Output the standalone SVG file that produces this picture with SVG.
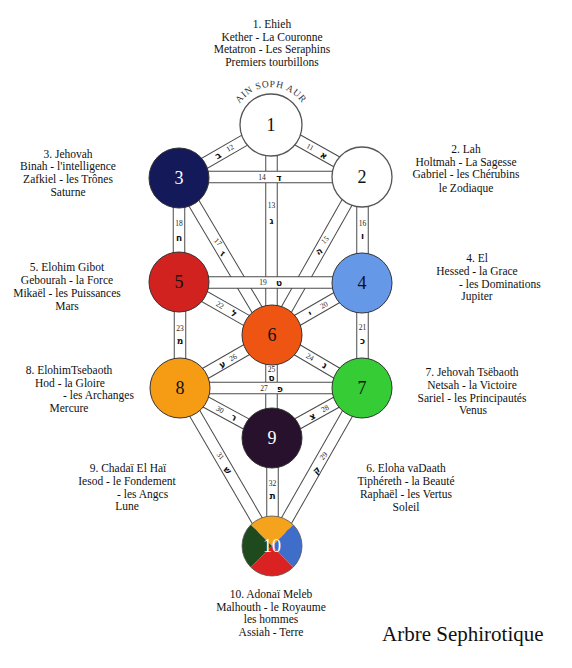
<svg xmlns="http://www.w3.org/2000/svg" width="572" height="668" viewBox="0 0 572 668">
<style>
.bo{stroke:#4a4a4a;stroke-width:12.5;fill:none}
.bi{stroke:#fff;stroke-width:10.5;fill:none}
.lb{font-family:"Liberation Serif","Times New Roman",serif;font-size:11.5px;fill:#111;text-anchor:middle}
.ls{font-family:"Liberation Serif","Times New Roman",serif;font-size:11.5px;fill:#111;text-anchor:start}
.pn{font-family:"Liberation Serif","Times New Roman",serif;font-size:7.5px;fill:#222;text-anchor:middle}
.pl{font-family:"DejaVu Sans","Liberation Sans",sans-serif;font-size:9px;font-weight:bold;fill:#111;text-anchor:middle}
.nn{font-family:"Liberation Serif","Times New Roman",serif;font-size:18px;text-anchor:middle}
.ring{stroke:#333;stroke-width:1}
</style>
<defs>
<path id="arc" d="M 233 125 A 38 38 0 0 1 309 125"/>
</defs>

<g id="text-labels">
<g id="label-1"><text class="lb" x="272" y="28">1. Ehieh</text><text class="lb" x="272" y="41">Kether - La Couronne</text><text class="lb" x="272" y="53">Metatron - Les Seraphins</text><text class="lb" x="272" y="66">Premiers tourbillons</text></g>
<g id="label-3"><text class="lb" x="68" y="158">3. Jehovah</text><text class="lb" x="68" y="170">Binah - l'intelligence</text><text class="lb" x="68" y="183">Zafkiel - les Trônes</text><text class="lb" x="68" y="196">Saturne</text></g>
<g id="label-2"><text class="lb" x="466" y="153">2. Lah</text><text class="lb" x="466" y="166">Holtmah - La Sagesse</text><text class="lb" x="466" y="178">Gabriel - les Chérubins</text><text class="lb" x="466" y="192">le Zodiaque</text></g>
<g id="label-5"><text class="lb" x="67" y="271">5. Elohim Gibot</text><text class="lb" x="67" y="284">Gebourah - la Force</text><text class="lb" x="67" y="297">Mikaël - les Puissances</text><text class="lb" x="67" y="310">Mars</text></g>
<g id="label-4"><text class="lb" x="477" y="262">4. El</text><text class="lb" x="477" y="275">Hessed - la Grace</text><text class="ls" x="459" y="288">- les Dominations</text><text class="lb" x="477" y="300">Jupiter</text></g>
<g id="label-8"><text class="lb" x="69" y="374">8. ElohimTsebaoth</text><text class="lb" x="70" y="387">Hod - la Gloire</text><text class="ls" x="63" y="399">- les Archanges</text><text class="lb" x="69" y="412">Mercure</text></g>
<g id="label-7"><text class="lb" x="472" y="376">7. Jehovah Tsëbaoth</text><text class="lb" x="472" y="389">Netsah - la Victoire</text><text class="lb" x="472" y="402">Sariel - les Principautés</text><text class="lb" x="473" y="414">Venus</text></g>
<g id="label-9"><text class="lb" x="128" y="472">9. Chadaï El Haï</text><text class="lb" x="127" y="485">Iesod - le Fondement</text><text class="ls" x="117" y="498">- les Angcs</text><text class="lb" x="127" y="510">Lune</text></g>
<g id="label-6"><text class="lb" x="406" y="472">6. Eloha vaDaath</text><text class="lb" x="406" y="485">Tiphéreth - la Beauté</text><text class="lb" x="406" y="498">Raphaël - les Vertus</text><text class="lb" x="406" y="511">Soleil</text></g>
<g id="label-10"><text class="lb" x="271" y="598">10. Adonaï Meleb</text><text class="lb" x="271" y="611">Malhouth - le Royaume</text><text class="lb" x="271" y="623">les hommes</text><text class="lb" x="271" y="636">Assiah - Terre</text></g>
<text id="title" x="382" y="641" font-family="Liberation Serif, Times New Roman, serif" font-size="21" fill="#111">Arbre Sephirotique</text>
<text id="ain-soph-aur" font-family="Liberation Serif, Times New Roman, serif" font-size="9.5" fill="#333" letter-spacing="0.7" text-anchor="middle"><textPath href="#arc" startOffset="50%">AIN SOPH AUR</textPath></text>
</g>

<g id="connectors">
<g id="p11"><line class="bo" x1="271" y1="125" x2="362" y2="176"/><line class="bi" x1="271" y1="125" x2="362" y2="176"/></g>
<g id="p12"><line class="bo" x1="271" y1="125" x2="179" y2="178"/><line class="bi" x1="271" y1="125" x2="179" y2="178"/></g>
<g id="p13"><line class="bo" x1="271.5" y1="125" x2="271.5" y2="335"/><line class="bi" x1="271.5" y1="125" x2="271.5" y2="335"/></g>
<g id="p15"><line class="bo" x1="362" y1="176" x2="272" y2="335"/><line class="bi" x1="362" y1="176" x2="272" y2="335"/></g>
<g id="p16"><line class="bo" x1="362.5" y1="176" x2="362.5" y2="283"/><line class="bi" x1="362.5" y1="176" x2="362.5" y2="283"/></g>
<g id="p17"><line class="bo" x1="179" y1="178" x2="272" y2="335"/><line class="bi" x1="179" y1="178" x2="272" y2="335"/></g>
<g id="p18"><line class="bo" x1="179" y1="178" x2="179" y2="282"/><line class="bi" x1="179" y1="178" x2="179" y2="282"/></g>
<g id="p20"><line class="bo" x1="362" y1="283" x2="272" y2="335"/><line class="bi" x1="362" y1="283" x2="272" y2="335"/></g>
<g id="p21"><line class="bo" x1="362.5" y1="283" x2="362.5" y2="388"/><line class="bi" x1="362.5" y1="283" x2="362.5" y2="388"/></g>
<g id="p22"><line class="bo" x1="179" y1="282" x2="272" y2="335"/><line class="bi" x1="179" y1="282" x2="272" y2="335"/></g>
<g id="p23"><line class="bo" x1="180" y1="282" x2="180" y2="388"/><line class="bi" x1="180" y1="282" x2="180" y2="388"/></g>
<g id="p24"><line class="bo" x1="272" y1="335" x2="362" y2="388"/><line class="bi" x1="272" y1="335" x2="362" y2="388"/></g>
<g id="p25"><line class="bo" x1="271.5" y1="335" x2="271.5" y2="438"/><line class="bi" x1="271.5" y1="335" x2="271.5" y2="438"/></g>
<g id="p26"><line class="bo" x1="180" y1="388" x2="272" y2="335"/><line class="bi" x1="180" y1="388" x2="272" y2="335"/></g>
<g id="p28"><line class="bo" x1="362" y1="388" x2="272" y2="438"/><line class="bi" x1="362" y1="388" x2="272" y2="438"/></g>
<g id="p29"><line class="bo" x1="362" y1="388" x2="272" y2="546"/><line class="bi" x1="362" y1="388" x2="272" y2="546"/></g>
<g id="p30"><line class="bo" x1="180" y1="388" x2="272" y2="438"/><line class="bi" x1="180" y1="388" x2="272" y2="438"/></g>
<g id="p31"><line class="bo" x1="180" y1="388" x2="272" y2="546"/><line class="bi" x1="180" y1="388" x2="272" y2="546"/></g>
<g id="p32"><line class="bo" x1="272.5" y1="438" x2="272.5" y2="546"/><line class="bi" x1="272.5" y1="438" x2="272.5" y2="546"/></g>
<g id="p14"><line class="bo" x1="179" y1="177" x2="362" y2="177"/><line class="bi" x1="179" y1="177" x2="362" y2="177"/></g>
<g id="p19"><line class="bo" x1="179" y1="282.5" x2="362" y2="282.5"/><line class="bi" x1="179" y1="282.5" x2="362" y2="282.5"/></g>
<g id="p27"><line class="bo" x1="180" y1="388" x2="362" y2="388"/><line class="bi" x1="180" y1="388" x2="362" y2="388"/></g>

<g id="path-labels">
<text class="pn" transform="translate(310,147) rotate(29)" y="2.5">11</text><text class="pl" transform="translate(324,155) rotate(29)" y="3.5">א</text>
<text class="pn" transform="translate(230,148) rotate(-30)" y="2.5">12</text><text class="pl" transform="translate(218,155) rotate(-30)" y="3.5">ב</text>
<text class="pn" x="271.5" y="207.5">13</text><text class="pl" x="271.5" y="223.5">ג</text>
<text class="pn" x="262" y="179.5">14</text><text class="pl" x="279" y="180.5">ד</text>
<text class="pn" transform="translate(325,240) rotate(-45)" y="2.5">15</text><text class="pl" transform="translate(319,251) rotate(-30)" y="3.5">ה</text>
<text class="pn" x="362.5" y="225.5">16</text><text class="pl" x="362.5" y="238.5">ו</text>
<text class="pn" transform="translate(218,242) rotate(45)" y="2.5">17</text><text class="pl" transform="translate(223,253) rotate(30)" y="3.5">ז</text>
<text class="pn" x="179" y="225.5">18</text><text class="pl" x="179" y="240.5">ח</text>
<text class="pn" x="263" y="285">19</text><text class="pl" x="279" y="286">ט</text>
<text class="pn" transform="translate(324,305) rotate(-30)" y="2.5">20</text><text class="pl" transform="translate(310,313) rotate(-30)" y="3.5">י</text>
<text class="pn" x="362.5" y="329.5">21</text><text class="pl" x="362.5" y="343.5">כ</text>
<text class="pn" transform="translate(220,305) rotate(30)" y="2.5">22</text><text class="pl" transform="translate(234,313) rotate(30)" y="3.5">ל</text>
<text class="pn" x="180" y="330.5">23</text><text class="pl" x="180" y="343.5">מ</text>
<text class="pn" transform="translate(310,357) rotate(30)" y="2.5">24</text><text class="pl" transform="translate(325,365) rotate(30)" y="3.5">נ</text>
<text class="pn" x="271.5" y="371.5">25</text><text class="pl" x="271.5" y="381">ס</text>
<text class="pn" transform="translate(233,357.5) rotate(-30)" y="2.5">26</text><text class="pl" transform="translate(222,364) rotate(-30)" y="3.5">ע</text>
<text class="pn" x="264" y="390.5">27</text><text class="pl" x="280" y="391.5">פ</text>
<text class="pn" transform="translate(325,408.5) rotate(-29)" y="2.5">28</text><text class="pl" transform="translate(312,416) rotate(-29)" y="3.5">צ</text>
<text class="pn" transform="translate(323.5,456) rotate(-50)" y="2.5">29</text><text class="pl" transform="translate(316,470) rotate(-45)" y="3.5">ק</text>
<text class="pn" transform="translate(220,409.5) rotate(29)" y="2.5">30</text><text class="pl" transform="translate(234,417) rotate(29)" y="3.5">ר</text>
<text class="pn" transform="translate(220.5,456) rotate(50)" y="2.5">31</text><text class="pl" transform="translate(228,470) rotate(45)" y="3.5">ש</text>
<text class="pn" x="272.5" y="485.5">32</text><text class="pl" x="272.5" y="498.5">ת</text>
</g>
</g>

<g id="node-1"><circle cx="271" cy="125" r="31" fill="#fff" stroke="#555" stroke-width="1.3"/><text class="nn" x="271" y="131" fill="#111">1</text></g>
<g id="node-2"><circle cx="362" cy="177" r="30" fill="#fff" stroke="#555" stroke-width="1.3"/><text class="nn" x="362" y="183" fill="#111">2</text></g>
<g id="node-3"><circle class="ring" cx="179" cy="178" r="30" fill="#14195a"/><text class="nn" x="179" y="184" fill="#fff">3</text></g>
<g id="node-5"><circle class="ring" cx="179" cy="282" r="30" fill="#d2221f"/><text class="nn" x="179" y="288" fill="#111">5</text></g>
<g id="node-4"><circle class="ring" cx="362" cy="283" r="30" fill="#6698e8"/><text class="nn" x="362" y="289" fill="#111">4</text></g>
<g id="node-6"><circle class="ring" cx="272" cy="335" r="30" fill="#ef5512"/><text class="nn" x="272" y="341" fill="#111">6</text></g>
<g id="node-8"><circle class="ring" cx="180" cy="388" r="30" fill="#f59c14"/><text class="nn" x="180" y="394" fill="#111">8</text></g>
<g id="node-7"><circle class="ring" cx="362" cy="388" r="30" fill="#36cc36"/><text class="nn" x="362" y="394" fill="#111">7</text></g>
<g id="node-9"><circle class="ring" cx="272" cy="438" r="30" fill="#27112c"/><text class="nn" x="272" y="444" fill="#fff">9</text></g>
<g id="node-10">
<path d="M272,546 L250.79,524.79 A30,30 0 0 1 293.21,524.79 Z" fill="#f5a21c"/>
<path d="M272,546 L293.21,524.79 A30,30 0 0 1 293.21,567.21 Z" fill="#3e6dca"/>
<path d="M272,546 L293.21,567.21 A30,30 0 0 1 250.79,567.21 Z" fill="#da2222"/>
<path d="M272,546 L250.79,567.21 A30,30 0 0 1 250.79,524.79 Z" fill="#1e4a1e"/>
<circle cx="272" cy="546" r="30" fill="none" stroke="#555" stroke-width="0.8"/>
<text class="nn" x="272" y="552" fill="#fff">10</text>
</g>
</svg>
